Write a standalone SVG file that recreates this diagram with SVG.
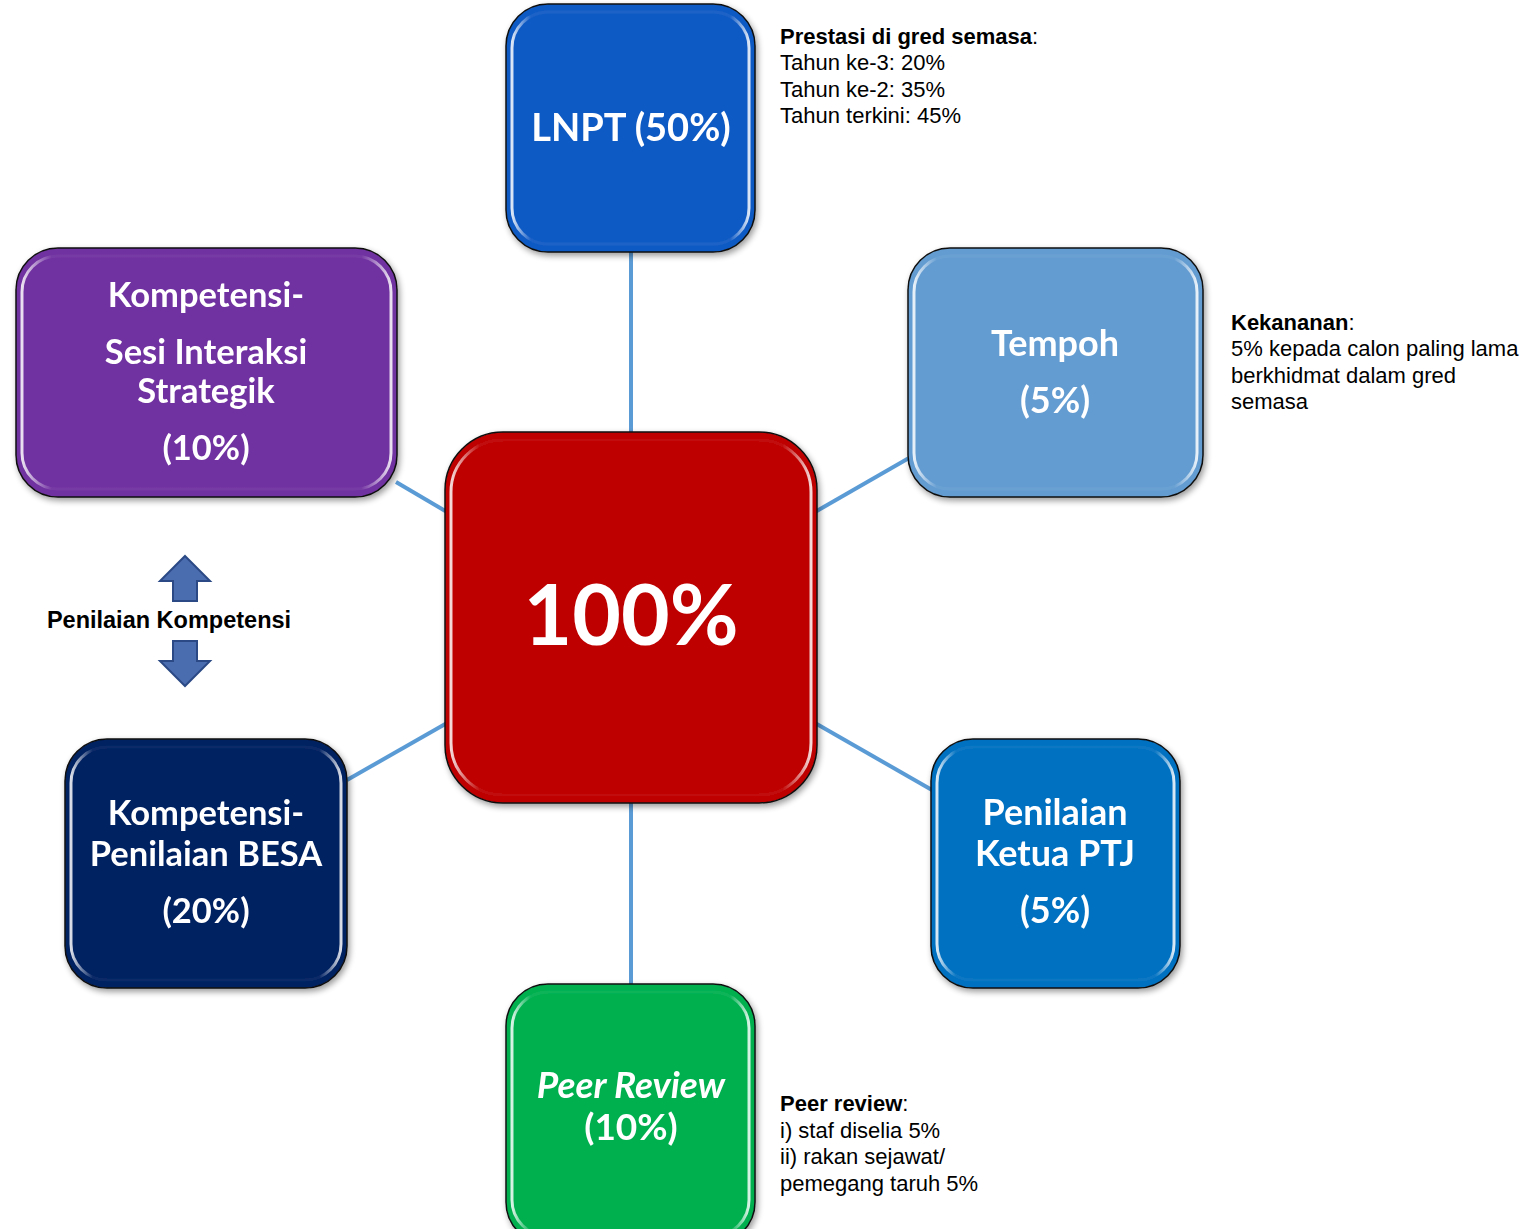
<svg xmlns="http://www.w3.org/2000/svg" width="1529" height="1229" viewBox="0 0 1529 1229">
<defs>
<filter id="sh" x="-10%" y="-10%" width="125%" height="125%">
<feGaussianBlur in="SourceAlpha" stdDeviation="3"/>
<feOffset dx="2" dy="3"/>
<feComponentTransfer><feFuncA type="linear" slope="0.4"/></feComponentTransfer>
<feMerge><feMergeNode/><feMergeNode in="SourceGraphic"/></feMerge>
</filter>
<linearGradient id="gl" x1="0" y1="0" x2="1" y2="0">
<stop offset="0" stop-color="#fff" stop-opacity="0.85"/>
<stop offset="0.08" stop-color="#fff" stop-opacity="0.05"/>
<stop offset="0.92" stop-color="#fff" stop-opacity="0.05"/>
<stop offset="1" stop-color="#fff" stop-opacity="0.85"/>
</linearGradient>
</defs>
<style>
.box{stroke:#111;stroke-width:1.5}
.gloss{fill:none;stroke:url(#gl);stroke-width:3}
.lbl{font-family:Lato,"Open Sans",sans-serif;font-weight:bold;fill:#fff;text-anchor:middle;font-size:34.5px}
.note{font-family:"Liberation Sans",Arial,sans-serif;font-size:22px;fill:#000}
.conn{stroke:#5B9BD5;stroke-width:4;fill:none}
.arr{fill:#4A6DB0;stroke:#2B4A85;stroke-width:2}
</style>
<rect width="1529" height="1229" fill="#fff"/>
<g id="connectors">
<line class="conn" x1="631" y1="252" x2="631" y2="434"/>
<line class="conn" x1="631" y1="801" x2="631" y2="985"/>
<line class="conn" x1="396" y1="482" x2="447" y2="512"/>
<line class="conn" x1="815" y1="512" x2="909" y2="458"/>
<line class="conn" x1="447" y1="723" x2="347" y2="780"/>
<line class="conn" x1="815" y1="723" x2="932" y2="790"/>
</g>
<g id="lnpt" filter="url(#sh)">
<rect class="box" x="506" y="4" width="249" height="248" rx="42" fill="#105AC4"/>
<rect class="gloss" x="512" y="12" width="237" height="232" rx="36"/>
<text class="lbl" x="631" y="141" style="font-size:38px">LNPT (50%)</text>
</g>
<g id="center" filter="url(#sh)">
<rect class="box" x="445" y="432" width="372" height="371" rx="58" fill="#BE0000"/>
<rect class="gloss" x="451" y="440" width="360" height="355" rx="52"/>
<text class="lbl" x="631" y="645" style="font-size:84px">100%</text>
</g>
<g id="tempoh" filter="url(#sh)">
<rect class="box" x="908" y="248" width="295" height="249" rx="42" fill="#639CD1"/>
<rect class="gloss" x="914" y="256" width="283" height="233" rx="36"/>
<text class="lbl" x="1055" y="356" style="font-size:36px">Tempoh</text>
<text class="lbl" x="1055" y="413" style="font-size:36px">(5%)</text>
</g>
<g id="sesi" filter="url(#sh)">
<rect class="box" x="16" y="248" width="381" height="249" rx="42" fill="#7030A0"/>
<rect class="gloss" x="22" y="256" width="369" height="233" rx="36"/>
<text class="lbl" x="206" y="307">Kompetensi-</text>
<text class="lbl" x="206" y="364">Sesi Interaksi</text>
<text class="lbl" x="206" y="403">Strategik</text>
<text class="lbl" x="206" y="460">(10%)</text>
</g>
<g id="besa" filter="url(#sh)">
<rect class="box" x="65" y="739" width="282" height="249" rx="42" fill="#002060"/>
<rect class="gloss" x="71" y="747" width="270" height="233" rx="36"/>
<text class="lbl" x="206" y="825">Kompetensi-</text>
<text class="lbl" x="206" y="866">Penilaian BESA</text>
<text class="lbl" x="206" y="923">(20%)</text>
</g>
<g id="ptj" filter="url(#sh)">
<rect class="box" x="931" y="739" width="249" height="249" rx="42" fill="#0070C0"/>
<rect class="gloss" x="937" y="747" width="237" height="233" rx="36"/>
<text class="lbl" x="1055" y="825" style="font-size:36px">Penilaian</text>
<text class="lbl" x="1055" y="866" style="font-size:36px">Ketua PTJ</text>
<text class="lbl" x="1055" y="923" style="font-size:36px">(5%)</text>
</g>
<g id="peer" filter="url(#sh)">
<rect class="box" x="506" y="984" width="249" height="260" rx="42" fill="#00B050"/>
<rect class="gloss" x="512" y="992" width="237" height="244" rx="36"/>
<text class="lbl" x="631" y="1098" font-style="italic" style="font-size:37px">Peer Review</text>
<text class="lbl" x="631" y="1140" style="font-size:37px">(10%)</text>
</g>
<g id="note-lnpt">
<text class="note" x="780" y="44"><tspan font-weight="bold">Prestasi di gred semasa</tspan>:</text>
<text class="note" x="780" y="70">Tahun ke-3: 20%</text>
<text class="note" x="780" y="97">Tahun ke-2: 35%</text>
<text class="note" x="780" y="123">Tahun terkini: 45%</text>
</g>
<g id="note-tempoh">
<text class="note" x="1231" y="330"><tspan font-weight="bold">Kekananan</tspan>:</text>
<text class="note" x="1231" y="356">5% kepada calon paling lama</text>
<text class="note" x="1231" y="383">berkhidmat dalam gred</text>
<text class="note" x="1231" y="409">semasa</text>
</g>
<g id="note-peer">
<text class="note" x="780" y="1111"><tspan font-weight="bold">Peer review</tspan>:</text>
<text class="note" x="780" y="1138">i) staf diselia 5%</text>
<text class="note" x="780" y="1164">ii) rakan sejawat/</text>
<text class="note" x="780" y="1191">pemegang taruh 5%</text>
</g>
<g id="penilaian-kompetensi">
<path class="arr" d="M185,556 L210,581 L197,581 L197,601 L173,601 L173,581 L160,581 Z"/>
<text class="note" x="169" y="628" text-anchor="middle" font-weight="bold" style="font-size:23.5px">Penilaian Kompetensi</text>
<path class="arr" d="M173,641 L197,641 L197,661 L210,661 L185,686 L160,661 L173,661 Z"/>
</g>
</svg>
